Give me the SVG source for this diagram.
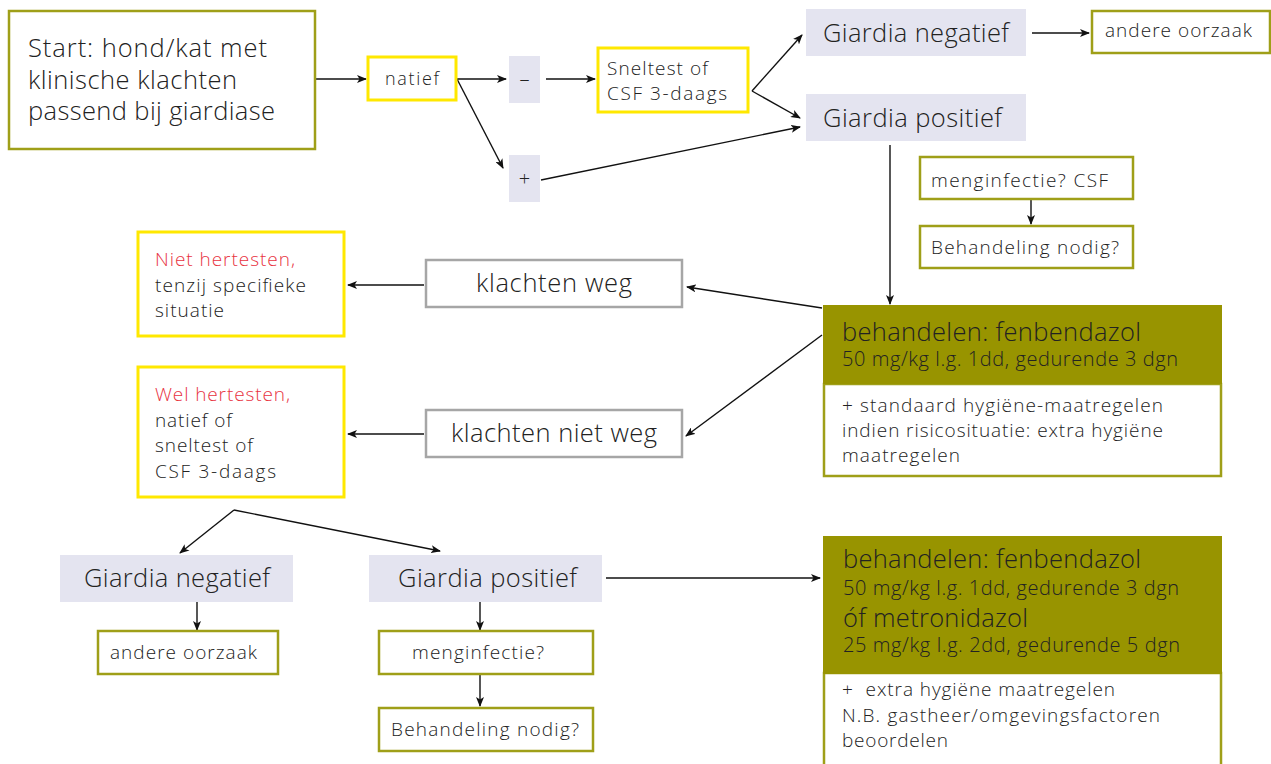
<svg xmlns="http://www.w3.org/2000/svg" width="1271" height="764" viewBox="0 0 1271 764">
<style>
text{font-family:"Open Sans",Roboto,"Liberation Sans",sans-serif;font-weight:300;fill:#222}
.olive{fill:#fff;stroke:#9f9f18;stroke-width:2.5}
.yel{fill:#fff;stroke:#ffe800;stroke-width:3}
.lav{fill:#e4e4f0}
.gray{fill:#fff;stroke:#a6a6a6;stroke-width:2.5}
.ofill{fill:#989400}
.c{text-anchor:middle}
.red{fill:#e8333f}
.f26{font-size:25.5px}.f20{font-size:20px}.f19{font-size:19px}.f18{font-size:18px}
#conn line{stroke:#111;stroke-width:1.4;fill:none}
</style>
<defs>
<marker id="ah" viewBox="0 0 10 8" refX="9" refY="4" markerWidth="10" markerHeight="8" markerUnits="userSpaceOnUse" orient="auto">
<path d="M0,0 L10,4 L0,8 L2.5,4 z" fill="#111"/>
</marker>
</defs>
<rect width="1271" height="764" fill="#fff"/>

<g id="conn">
<line x1="316" y1="79" x2="366" y2="79" marker-end="url(#ah)"/>
<line x1="457" y1="79" x2="506" y2="79" marker-end="url(#ah)"/>
<line x1="457" y1="79" x2="503" y2="168" marker-end="url(#ah)"/>
<line x1="546" y1="79" x2="595" y2="79" marker-end="url(#ah)"/>
<line x1="752" y1="91" x2="802" y2="35" marker-end="url(#ah)"/>
<line x1="752" y1="91" x2="800" y2="118" marker-end="url(#ah)"/>
<line x1="541" y1="180" x2="800" y2="127" marker-end="url(#ah)"/>
<line x1="1032" y1="33" x2="1089" y2="33" marker-end="url(#ah)"/>
<line x1="890" y1="145" x2="890" y2="304" marker-end="url(#ah)"/>
<line x1="1031" y1="199" x2="1031" y2="224" marker-end="url(#ah)"/>
<line x1="822" y1="308" x2="687" y2="287" marker-end="url(#ah)"/>
<line x1="822" y1="335" x2="686" y2="436" marker-end="url(#ah)"/>
<line x1="424" y1="285" x2="348" y2="285" marker-end="url(#ah)"/>
<line x1="424" y1="434" x2="348" y2="434" marker-end="url(#ah)"/>
<line x1="234" y1="510" x2="180" y2="553" marker-end="url(#ah)"/>
<line x1="234" y1="510" x2="440" y2="551" marker-end="url(#ah)"/>
<line x1="197" y1="602" x2="197" y2="630" marker-end="url(#ah)"/>
<line x1="480" y1="602" x2="480" y2="630" marker-end="url(#ah)"/>
<line x1="480" y1="674" x2="480" y2="706" marker-end="url(#ah)"/>
<line x1="606" y1="578" x2="820" y2="578" marker-end="url(#ah)"/>
</g>

<g id="start">
<rect class="olive" x="9" y="11" width="306" height="138"/>
<text class="f26" x="28" y="57" textLength="239" lengthAdjust="spacing">Start: hond/kat met</text>
<text class="f26" x="28" y="89" textLength="209" lengthAdjust="spacing">klinische klachten</text>
<text class="f26" x="28" y="120" textLength="247" lengthAdjust="spacing">passend bij giardiase</text>
</g>

<g id="natief">
<rect class="yel" x="368" y="57" width="88" height="43"/>
<text class="f18" x="385" y="85" textLength="54" lengthAdjust="spacing">natief</text>
</g>

<g id="min">
<rect class="lav" x="509" y="56" width="31" height="47"/>
<text class="f20 c" x="524.5" y="86">–</text>
</g>

<g id="plus">
<rect class="lav" x="509" y="155" width="31" height="47"/>
<text class="f20 c" x="524.5" y="186">+</text>
</g>

<g id="sneltest">
<rect class="yel" x="598" y="48" width="150" height="64"/>
<text class="f19" x="607" y="75" textLength="101" lengthAdjust="spacing">Sneltest of</text>
<text class="f19" x="607" y="100" textLength="120" lengthAdjust="spacing">CSF 3-daags</text>
</g>

<g id="gneg1">
<rect class="lav" x="806" y="9" width="220" height="47"/>
<text class="f26" x="823" y="42" textLength="186" lengthAdjust="spacing">Giardia negatief</text>
</g>

<g id="andere1">
<rect class="olive" x="1092" y="11" width="178" height="42"/>
<text class="f19" x="1105" y="37" textLength="147" lengthAdjust="spacing">andere oorzaak</text>
</g>

<g id="gpos1">
<rect class="lav" x="806" y="94" width="220" height="47"/>
<text class="f26" x="823" y="127" textLength="179" lengthAdjust="spacing">Giardia positief</text>
</g>

<g id="meng1">
<rect class="olive" x="920" y="157" width="213" height="42"/>
<text class="f19" x="931" y="187" textLength="177" lengthAdjust="spacing">menginfectie? CSF</text>
</g>

<g id="behnodig1">
<rect class="olive" x="920" y="226" width="213" height="42"/>
<text class="f19" x="931" y="254" textLength="188" lengthAdjust="spacing">Behandeling nodig?</text>
</g>

<g id="treat1">
<rect class="olive" x="824" y="384" width="397" height="92"/>
<rect class="ofill" x="823" y="305" width="399" height="79"/>
<text class="f26" x="842" y="341" textLength="299" lengthAdjust="spacing">behandelen: fenbendazol</text>
<text class="f20" x="842" y="366" textLength="336" lengthAdjust="spacing">50 mg/kg l.g. 1dd, gedurende 3 dgn</text>
<text class="f19" x="842" y="412" textLength="321" lengthAdjust="spacing">+ standaard hygiëne-maatregelen</text>
<text class="f19" x="842" y="437" textLength="321" lengthAdjust="spacing">indien risicosituatie: extra hygiëne</text>
<text class="f19" x="842" y="462" textLength="118" lengthAdjust="spacing">maatregelen</text>
</g>

<g id="weg">
<rect class="gray" x="426" y="260" width="256" height="47"/>
<text class="f26" x="476" y="292" textLength="156" lengthAdjust="spacing">klachten weg</text>
</g>

<g id="nietweg">
<rect class="gray" x="426" y="410" width="256" height="47"/>
<text class="f26" x="451" y="442" textLength="206" lengthAdjust="spacing">klachten niet weg</text>
</g>

<g id="niet">
<rect class="yel" x="138" y="232" width="206" height="104"/>
<text class="f19 red" x="155" y="266" textLength="140" lengthAdjust="spacing">Niet hertesten,</text>
<text class="f19" x="155" y="292" textLength="151" lengthAdjust="spacing">tenzij specifieke</text>
<text class="f19" x="155" y="317" textLength="69" lengthAdjust="spacing">situatie</text>
</g>

<g id="wel">
<rect class="yel" x="138" y="367" width="206" height="130"/>
<text class="f19 red" x="155" y="401" textLength="135" lengthAdjust="spacing">Wel hertesten,</text>
<text class="f19" x="155" y="427" textLength="77" lengthAdjust="spacing">natief of</text>
<text class="f19" x="155" y="452" textLength="98" lengthAdjust="spacing">sneltest of</text>
<text class="f19" x="155" y="478" textLength="121" lengthAdjust="spacing">CSF 3-daags</text>
</g>

<g id="gneg2">
<rect class="lav" x="60" y="555" width="233" height="47"/>
<text class="f26" x="84" y="587" textLength="186" lengthAdjust="spacing">Giardia negatief</text>
</g>

<g id="andere2">
<rect class="olive" x="98" y="631" width="180" height="43"/>
<text class="f19" x="110" y="659" textLength="147" lengthAdjust="spacing">andere oorzaak</text>
</g>

<g id="gpos2">
<rect class="lav" x="369" y="555" width="233" height="47"/>
<text class="f26" x="398" y="587" textLength="179" lengthAdjust="spacing">Giardia positief</text>
</g>

<g id="meng2">
<rect class="olive" x="379" y="631" width="214" height="43"/>
<text class="f19" x="412" y="659" textLength="132" lengthAdjust="spacing">menginfectie?</text>
</g>

<g id="behnodig2">
<rect class="olive" x="379" y="708" width="214" height="43"/>
<text class="f19" x="391" y="736" textLength="188" lengthAdjust="spacing">Behandeling nodig?</text>
</g>

<g id="treat2">
<rect class="olive" x="824" y="673" width="397" height="100"/>
<rect class="ofill" x="823" y="536" width="399" height="138"/>
<text class="f26" x="843" y="568" textLength="298" lengthAdjust="spacing">behandelen: fenbendazol</text>
<text class="f20" x="843" y="595" textLength="336" lengthAdjust="spacing">50 mg/kg l.g. 1dd, gedurende 3 dgn</text>
<text class="f26" x="843" y="627" textLength="185" lengthAdjust="spacing">óf metronidazol</text>
<text class="f20" x="843" y="652" textLength="337" lengthAdjust="spacing">25 mg/kg l.g. 2dd, gedurende 5 dgn</text>
<text class="f19" x="842" y="696" textLength="273" lengthAdjust="spacing" xml:space="preserve">+  extra hygiëne maatregelen</text>
<text class="f19" x="842" y="722" textLength="318" lengthAdjust="spacing">N.B. gastheer/omgevingsfactoren</text>
<text class="f19" x="842" y="747" textLength="106" lengthAdjust="spacing">beoordelen</text>
</g>
</svg>
